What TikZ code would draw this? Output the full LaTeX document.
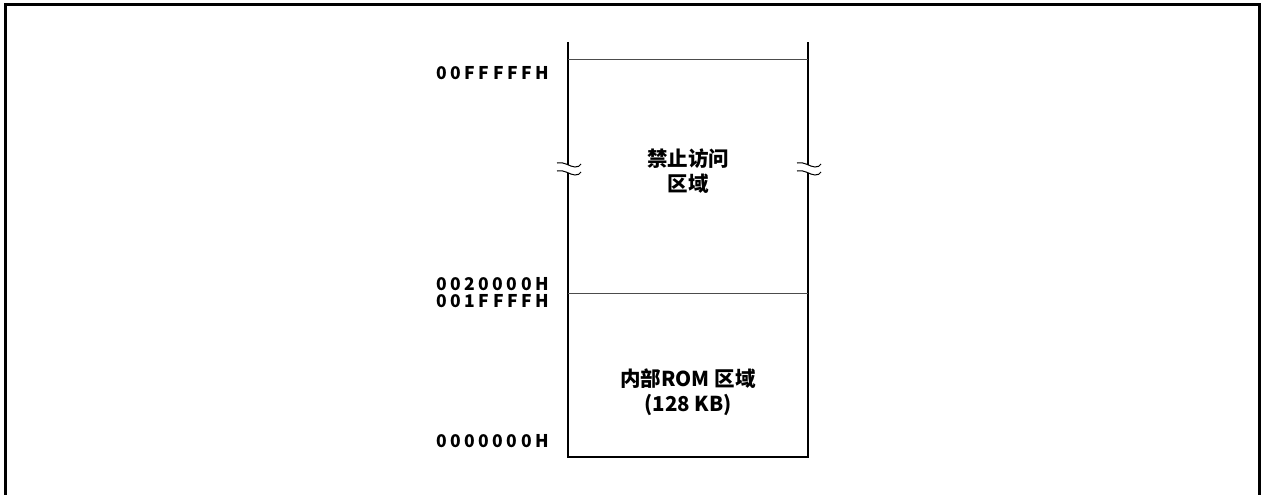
\documentclass[tikz,border=0pt]{standalone}
\usepackage{fontspec}
\setmainfont{Noto Sans CJK SC}
\newfontfamily\cjk{Noto Sans CJK SC}
\newfontfamily\hexf{Noto Sans CJK SC}[LetterSpace=20]
\begin{document}
\begin{tikzpicture}[x=1pt,y=-1pt,
  frame/.style={line width=3pt},
  wall/.style={line width=2pt},
  divider/.style={line width=1pt,black!70},
  brk/.style={line width=1pt},
  addr/.style={anchor=east,inner sep=0pt,font=\hexf\bfseries\fontsize{17.5}{18}\selectfont},
  area/.style={align=center,inner sep=0pt,font=\cjk\bfseries\fontsize{20.5}{25}\selectfont}]
\useasboundingbox (0,0) rectangle (1261,495);
% outer frame (open at the bottom)
\draw[frame] (5.5,495) -- (5.5,4.5) -- (1259.5,4.5) -- (1259.5,495);
% memory column
\coordinate (tl) at (568,42);
\coordinate (tr) at (808,42);
\coordinate (bl) at (568,457);
\coordinate (br) at (808,457);
\coordinate (lb1) at (568,165);
\coordinate (lb2) at (568,173);
\coordinate (rb1) at (808,165);
\coordinate (rb2) at (808,173);
\draw[wall] (tl) -- (lb1);
\draw[wall] (lb2) -- (bl) -- (br) -- (rb2);
\draw[wall] (rb1) -- (tr);
\draw[divider] (568,60) -- (808,60);
\draw[divider] (568,293) -- (808,293);
% break marks
\foreach \p in {lb1,lb2,rb1,rb2}{
  \draw[brk] ([xshift=-11pt,yshift=2pt]\p) .. controls ([xshift=-4pt,yshift=4pt]\p) and ([xshift=2pt,yshift=-2pt]\p) .. ([xshift=7pt,yshift=-2pt]\p) .. controls ([xshift=10pt,yshift=-2pt]\p) and ([xshift=12pt,yshift=-1pt]\p) .. ([xshift=13pt,yshift=1pt]\p);
}
% addresses
\node[addr] (a1) at (549,73) {00FFFFFH};
\node[addr] (a2) at (549,284) {0020000H};
\node[addr] (a3) at (549,301) {001FFFFH};
\node[addr] (a4) at (549,441) {0000000H};
% areas
\node[area] (r1) at (688,171) {禁止访问\\区域};
\node[area] (r2) at (688,392) {内部ROM 区域\\(128 KB)};
\end{tikzpicture}
\end{document}
